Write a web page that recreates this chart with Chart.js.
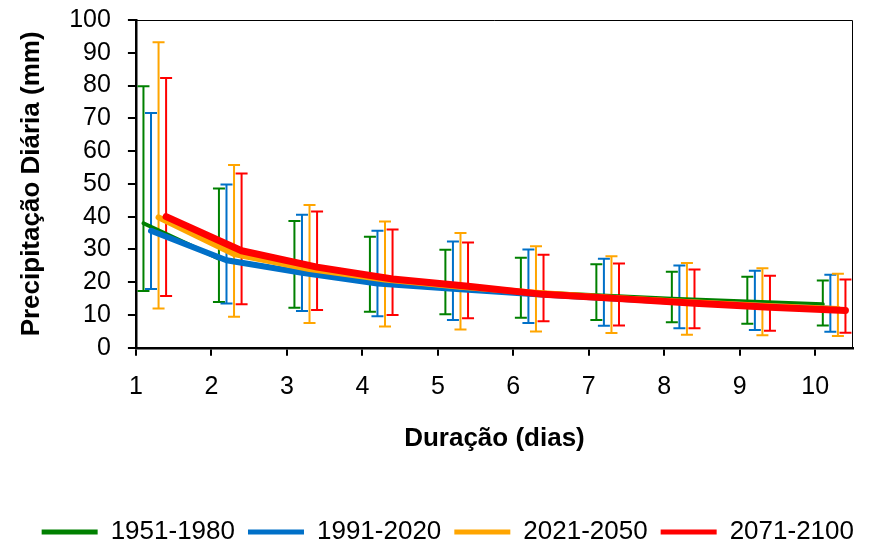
<!DOCTYPE html>
<html>
<head>
<meta charset="utf-8">
<script src="https://cdn.jsdelivr.net/npm/chart.js@4.4.1/dist/chart.umd.min.js"></script>
<style>
  html, body { margin: 0; padding: 0; background: #fff; }
  #wrap { width: 870px; height: 544px; }
</style>
</head>
<body>
<div id="wrap"><canvas id="myChart"></canvas></div>
<script>
// duration in days
const dias = [1, 2, 3, 4, 5, 6, 7, 8, 9, 10];
const xTicks = [1, 2, 3, 4, 5, 6, 7, 8, 9, 10];
const yTicks = [0, 10, 20, 30, 40, 50, 60, 70, 80, 90, 100];

const periodos = ['1951-1980', '1991-2020', '2021-2050', '2071-2100'];

// mean daily precipitation (mm)
const p1951 = [38.0, 27.2, 23.4, 20.2, 18.3, 17.1, 16.0, 15.0, 14.1, 13.3];
const p1991 = [35.7, 26.7, 22.9, 19.6, 18.0, 16.5, 15.2, 14.0, 12.9, 11.9];
const p2021 = [39.8, 28.6, 24.0, 20.8, 18.6, 16.8, 15.3, 14.0, 12.8, 11.8];
const p2071 = [40.0, 29.6, 24.6, 21.0, 18.8, 16.3, 15.0, 13.6, 12.4, 11.4];

// error bar limits
const min1951 = [17.3, 14.0, 12.2, 11.0, 10.2, 9.2, 8.5, 7.8, 7.3, 6.8];
const max1951 = [79.8, 48.6, 38.7, 33.9, 29.9, 27.5, 25.5, 23.2, 21.7, 20.5];
const min1991 = [17.9, 13.5, 11.2, 9.6, 8.5, 7.6, 6.7, 6.0, 5.4, 4.9];
const max1991 = [71.6, 49.8, 40.6, 35.7, 32.4, 30.0, 27.2, 25.1, 23.5, 22.3];
const min2021 = [12.0, 9.5, 7.6, 6.5, 5.6, 5.0, 4.5, 4.0, 3.8, 3.6];
const max2021 = [93.2, 55.8, 43.6, 38.5, 35.0, 31.0, 27.9, 25.9, 24.3, 22.6];
const min2071 = [15.8, 13.3, 11.5, 10.0, 9.0, 8.1, 6.8, 6.0, 5.2, 4.6];
const max2071 = [82.3, 53.2, 41.6, 36.1, 32.1, 28.4, 25.7, 23.9, 22.0, 20.8];

const cores = ['#008000', '#0070C8', '#FFA500', '#FF0000'];
const larguras = [4, 6, 6, 7];
const desvio = [0.1, 0.2, 0.3, 0.4]; // horizontal shift so the bars don't overlap

const series = [p1951, p1991, p2021, p2071];
const minimos = [min1951, min1991, min2021, min2071];
const maximos = [max1951, max1991, max2021, max2071];

Chart.defaults.font.family = '"Liberation Sans", Arial, sans-serif';
Chart.defaults.color = '#000';

const datasets = series.map((s, i) => ({
  label: periodos[i],
  data: s.map((v, k) => ({ x: dias[k] + desvio[i], y: v })),
  lo: minimos[i].map((v, k) => ({ x: dias[k] + desvio[i], y: v })),
  hi: maximos[i].map((v, k) => ({ x: dias[k] + desvio[i], y: v })),
  borderColor: cores[i],
  backgroundColor: cores[i],
  borderWidth: larguras[i],
  borderCapStyle: 'round',
  borderJoinStyle: 'round',
  pointRadius: 0,
  tension: 0,
  order: 4 - i
}));

// vertical error bars with caps, drawn under the lines
const errorBars = {
  id: 'errorBars',
  beforeDatasetsDraw(chart) {
    const { ctx, scales: { x, y } } = chart;
    ctx.save();
    ctx.lineWidth = 2;
    chart.data.datasets.forEach((ds) => {
      ctx.strokeStyle = ds.borderColor;
      ds.lo.forEach((p, k) => {
        const px = x.getPixelForValue(p.x);
        const y0 = y.getPixelForValue(p.y);
        const y1 = y.getPixelForValue(ds.hi[k].y);
        ctx.beginPath();
        ctx.moveTo(px, y0); ctx.lineTo(px, y1);
        ctx.moveTo(px - 6, y0); ctx.lineTo(px + 6, y0);
        ctx.moveTo(px - 6, y1); ctx.lineTo(px + 6, y1);
        ctx.stroke();
      });
    });
    ctx.restore();
  }
};

// thin frame on top and right of the plot area
const frame = {
  id: 'frame',
  afterDraw(chart) {
    const { ctx, chartArea: a } = chart;
    ctx.save();
    ctx.strokeStyle = '#000';
    ctx.lineWidth = 1;
    ctx.beginPath();
    ctx.moveTo(a.left, a.top + 0.5);
    ctx.lineTo(a.right - 0.5, a.top + 0.5);
    ctx.lineTo(a.right - 0.5, a.bottom);
    ctx.stroke();
    ctx.restore();
  }
};

const ctx = document.getElementById('myChart').getContext('2d');
const myChart = new Chart(ctx, {
  type: 'line',
  data: { datasets },
  options: {
    responsive: true,
    maintainAspectRatio: false,
    animation: false,
    layout: { padding: { left: 16, right: 3, top: 0, bottom: -11 } },
    scales: {
      x: {
        type: 'linear',
        min: 1,
        max: 10.5,
        afterBuildTicks: (scale) => { scale.ticks = xTicks.map(v => ({ value: v })); },
        grid: { drawOnChartArea: false, color: '#000', tickColor: '#000', tickLength: 8, lineWidth: 2 },
        border: { color: '#000', width: 2.5 },
        ticks: { font: { size: 25 }, padding: 16, maxRotation: 0, autoSkip: false },
        title: { display: true, text: 'Duração (dias)', font: { size: 26, weight: 'bold' }, padding: { top: 5, bottom: 52 } }
      },
      y: {
        min: 0,
        max: 100,
        afterBuildTicks: (scale) => { scale.ticks = yTicks.map(v => ({ value: v })); },
        afterFit: (scale) => { scale.paddingTop = 20; },
        grid: { drawOnChartArea: false, color: '#000', tickColor: '#000', tickLength: 8, lineWidth: 2 },
        border: { color: '#000', width: 2.5 },
        ticks: { font: { size: 25 }, padding: 17, autoSkip: false },
        title: { display: true, text: 'Precipitação Diária (mm)', font: { size: 26, weight: 'bold' }, padding: { top: 0, bottom: 5 } }
      },
      // empty right-hand gutter
      y2: {
        position: 'right',
        ticks: { display: false },
        grid: { display: false },
        border: { display: false },
        afterFit: (scale) => { scale.width = 14; scale.paddingTop = 0; }
      }
    },
    plugins: {
      tooltip: { enabled: false },
      legend: {
        position: 'bottom',
        align: 'end',
        labels: {
          font: { size: 26 },
          boxWidth: 56,
          boxHeight: 5,
          padding: 13,
          generateLabels: (chart) => chart.data.datasets.map((ds, i) => ({
            text: ds.label,
            fillStyle: ds.borderColor,
            strokeStyle: ds.borderColor,
            lineWidth: 0,
            datasetIndex: i
          }))
        }
      }
    }
  },
  plugins: [errorBars, frame]
});
</script>
</body>
</html>
